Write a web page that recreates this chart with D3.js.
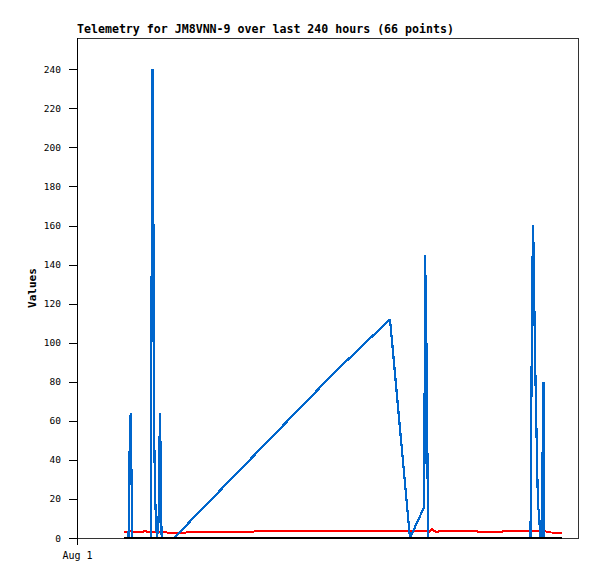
<!DOCTYPE html>
<html><head><meta charset="utf-8">
<script src="https://cdn.jsdelivr.net/npm/d3@7"></script>
<style>body{margin:0;background:#fff}svg{display:block}</style></head>
<body>
<script>
// hours since start of window (Aug 1 00:00)
const hours = [22.51,24.67,24.91,25.25,25.72,26.11,26.49,27.31,30.66,32.57,34.01,
  35.45,35.69,36.17,36.55,36.89,37.37,37.84,38.32,39.04,39.43,39.66,40.00,40.24,40.57,
  46.47,71.86,123.59,149.94,
  159.52,166.37,166.71,167.18,167.66,168.00,168.29,
  170.06,171.02,172.45,173.89,188.26,193.05,202.63,207.42,212.22,
  217.25,217.49,217.97,218.44,218.78,219.07,219.41,219.89,220.37,220.85,221.33,221.57,221.81,222.75,223.00,223.48,223.86,
  225.63,227.54,229.46,232.34];
const seriesBlue = [0,0,16,48,64,32,0,0,0,0,0,
  0,120,240,180,60,24,8,0,8,32,64,48,16,0,
  0,28,85,112,
  0,16,145,121,72,24,0,
  0,0,0,0,0,0,0,0,0,
  0,40,120,160,146,120,94,67,40,16,13,8,0,0,40,80,0,
  0,0,0,0];
const seriesRed = [2.9,2.9,2.9,3.4,3.4,3.4,3.4,2.9,2.9,3.6,3.0,
  2.9,2.9,2.9,2.9,2.9,2.9,2.9,2.9,2.9,2.9,2.9,2.9,2.9,2.9,
  2.7,3.2,3.7,3.7,
  3.7,3.7,3.7,3.7,3.7,3.7,2.8,
  4.6,3.7,3.0,3.7,3.7,3.2,3.2,3.7,3.7,
  3.7,3.7,3.7,3.7,3.7,3.7,3.7,3.7,3.7,3.7,3.7,3.7,3.7,3.7,3.7,3.7,3.7,
  2.9,2.8,2.8,2.8];
const seriesBlack = [0,0,0,0,0,0,0,0,0,0,0,
  0,0,0,0,0,0,0,0,0,0,0,0,0,0,
  0,0,0,0,
  0,0,0,0,0,0,0,
  0,0,0,0,0,0,0,0,0,
  0,0,0,0,0,0,0,0,0,0,0,0,0,0,0,0,0,
  0,0,0,0];
const yTickValues = [0,20,40,60,80,100,120,140,160,180,200,220,240];
const xTickHours = [0];
const xTickLabels = ["Aug 1"];
const titleText = "Telemetry for JM8VNN-9 over last 240 hours (66 points)";
const yLabel = "Values";

const W = 597, H = 579;
const L = 77, R = 578, T = 38, B = 538;
const svg = d3.select("body").append("svg").attr("width", W).attr("height", H);

const x = d3.scaleLinear().domain([0, 240]).range([L, R]);
const y = d3.scaleLinear().domain([0, 256]).range([B, T]);

// frame
svg.append("path")
  .attr("d", `M${L},${T}H${R}V${B}H${L}`)
  .attr("fill", "none").attr("stroke", "#333").attr("stroke-width", 1)
  .attr("shape-rendering", "crispEdges");

// y axis
const yAxis = d3.axisLeft(y).tickValues(yTickValues).tickSize(8).tickSizeOuter(0).tickPadding(8);
const gy = svg.append("g").attr("transform", `translate(${L},0)`).call(yAxis);
gy.select(".domain").remove();
gy.selectAll("line").attr("stroke", "#000").attr("shape-rendering", "crispEdges");
gy.selectAll("text").attr("font-family", "DejaVu Sans Mono, monospace").attr("font-size", 9.5).attr("fill", "#000");
svg.append("line").attr("x1", L).attr("x2", L).attr("y1", T).attr("y2", B + 7)
  .attr("stroke", "#000").attr("shape-rendering", "crispEdges");

// x axis labels
const xAxis = d3.axisBottom(x).tickValues(xTickHours).tickFormat((d, i) => xTickLabels[i]).tickSize(0).tickPadding(14);
const gx = svg.append("g").attr("transform", `translate(0,${B})`).call(xAxis);
gx.select(".domain").remove();
gx.selectAll("text").attr("font-family", "DejaVu Sans Mono, monospace").attr("font-size", 10).attr("fill", "#000");

// title
svg.append("text").attr("x", L).attr("y", 33).text(titleText)
  .attr("font-family", "DejaVu Sans Mono, monospace").attr("font-weight", "bold").attr("font-size", 11.6);

// y label
svg.append("text").attr("transform", `translate(36,${(T + B) / 2}) rotate(-90)`)
  .attr("text-anchor", "middle").text(yLabel)
  .attr("font-family", "DejaVu Sans Mono, monospace").attr("font-weight", "bold").attr("font-size", 11);

const line = d3.line().x((d, i) => x(hours[i])).y(d => y(d));
const plot = svg.append("g");
plot.append("path").datum(seriesRed).attr("d", line).attr("fill", "none").attr("stroke", "#ff0000").attr("stroke-width", 2).attr("shape-rendering", "crispEdges");
plot.append("path").datum(seriesBlue).attr("d", line).attr("fill", "none").attr("stroke", "#0066cc").attr("stroke-width", 2.2).attr("stroke-linejoin", "bevel").attr("shape-rendering", "crispEdges");
plot.append("path").datum(seriesBlack).attr("d", line).attr("fill", "none").attr("stroke", "#000").attr("stroke-width", 2.2).attr("shape-rendering", "crispEdges");
</script>
</body></html>
